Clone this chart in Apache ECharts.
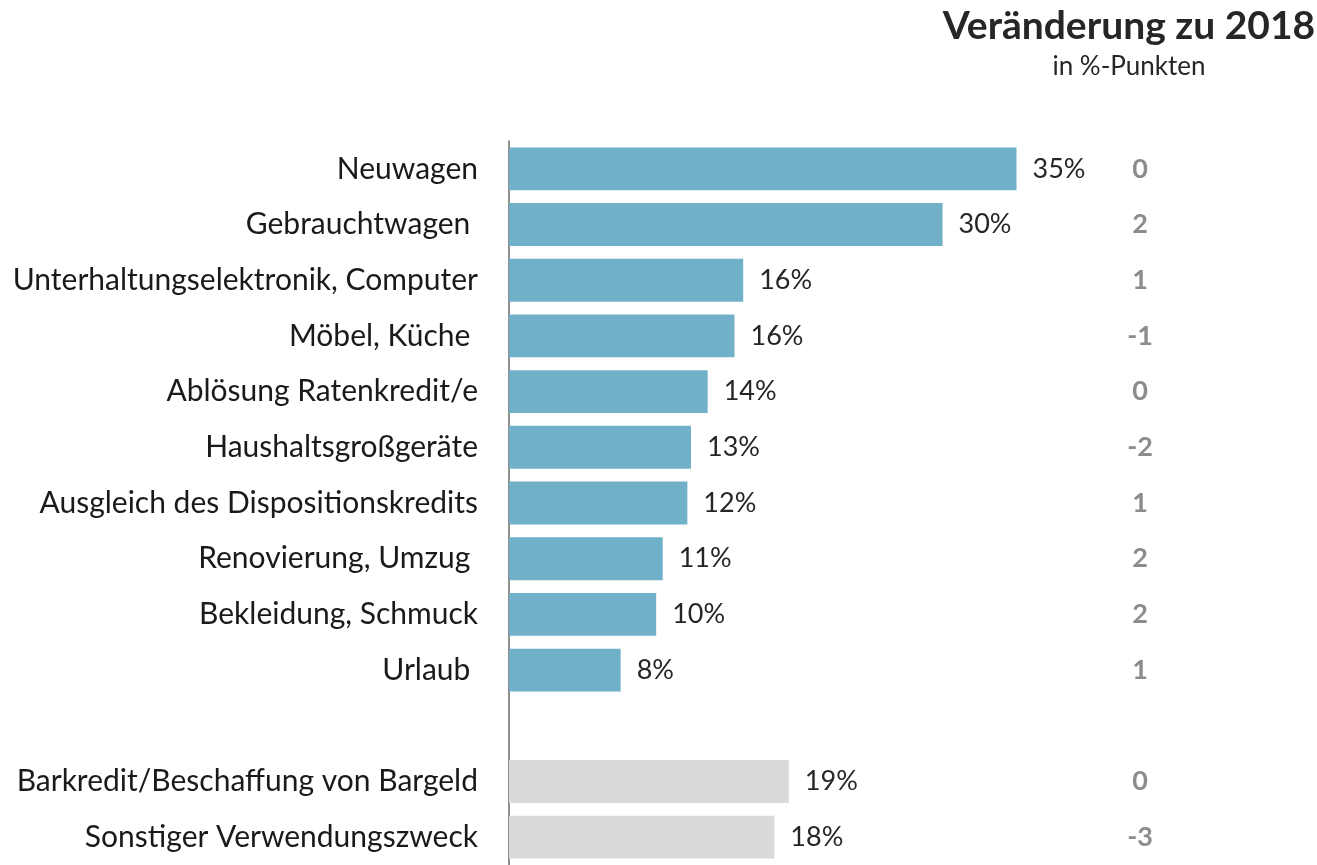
<!DOCTYPE html>
<html>
<head>
<meta charset="utf-8">
<script src="https://cdn.jsdelivr.net/npm/echarts@6/dist/echarts.min.js"></script>
<style>
  html, body { margin: 0; padding: 0; background: #fff; }
  #chart { width: 1317px; height: 865px; }
</style>
</head>
<body>
<div id="chart"></div>
<script>
// categories (empty slot = gap between groups)
const categories = [
  'Neuwagen', 'Gebrauchtwagen ', 'Unterhaltungselektronik, Computer', 'Möbel, Küche ',
  'Ablösung Ratenkredit/e', 'Haushaltsgroßgeräte', 'Ausgleich des Dispositionskredits',
  'Renovierung, Umzug ', 'Bekleidung, Schmuck', 'Urlaub ', '',
  'Barkredit/Beschaffung von Bargeld', 'Sonstiger Verwendungszweck'
]
// share in %
const shares = [35.0, 29.9, 16.15, 15.55, 13.7, 12.55, 12.3, 10.6, 10.15, 7.7, null, 19.3, 18.3]
// change vs 2018 in %-points
const changes = ['0', '2', '1', '-1', '0', '-2', '1', '2', '2', '1', '', '0', '-3']

const FONT = 'Lato'
const BLUE = '#70b0c9'
const GREY = '#d9d9d9'

const chart = echarts.init(document.getElementById('chart'))
chart.setOption({
  animation: false,
  title: {
    text: 'Veränderung zu 2018',
    subtext: 'in %-Punkten',
    left: 1124, top: 2, textAlign: 'center',
    itemGap: 8,
    textStyle: { fontFamily: FONT, fontSize: 39, fontWeight: 'bold', color: '#262626' },
    subtextStyle: { fontFamily: FONT, fontSize: 26, color: '#262626' }
  },
  grid: { left: 509, top: 141, width: 580, height: 728 },
  xAxis: {
    type: 'value', min: 0, max: 40,
    show: false
  },
  yAxis: [
    {
      type: 'category', data: categories, inverse: true,
      axisLine: { show: true, lineStyle: { color: '#6a6a6a', width: 1.5 } },
      axisTick: { show: false },
      axisLabel: { fontFamily: FONT, fontSize: 30, color: '#1a1a1a', margin: 31 }
    },
    {
      type: 'category', data: changes, inverse: true, position: 'right',
      axisLine: { show: false },
      axisTick: { show: false },
      axisLabel: { fontFamily: FONT, fontSize: 27, fontWeight: 'bold', color: '#8c8c8c', margin: 51, align: 'center' }
    }
  ],
  series: [{
    type: 'bar',
    yAxisIndex: 0,
    barCategoryGap: '23%',
    data: shares.map((v, i) => ({
      value: v,
      itemStyle: { color: i > 10 ? GREY : BLUE }
    })),
    label: {
      show: true, position: 'right', distance: 16,
      fontFamily: FONT, fontSize: 27, color: '#262626',
      formatter: p => p.value == null ? '' : Math.round(p.value) + '%'
    }
  }]
})
</script>
</body>
</html>
